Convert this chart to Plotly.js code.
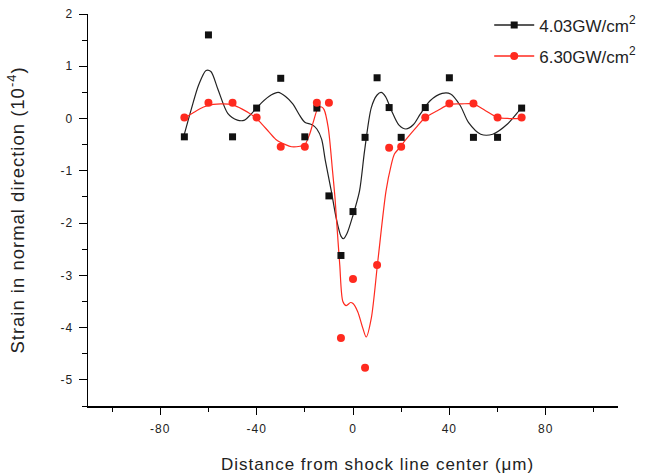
<!DOCTYPE html>
<html>
<head>
<meta charset="utf-8">
<script src="https://cdn.plot.ly/plotly-3.0.1.min.js"></script>
<style>
html,body{margin:0;padding:0;background:#fff;}
#chart{width:649px;height:474px;}
#chart .xtitle, #chart .ytitle, #chart .xtick text, #chart .ytick text, #chart .annotation-text {letter-spacing:1px;}
</style>
</head>
<body>
<div id="chart"></div>
<script>
// Measured points
const xBlack = [-70,-60,-50,-40,-30,-20,-15,-10,-5,0,5,10,15,20,30,40,50,60,70];
const yBlack = [-0.35,1.6,-0.35,0.2,0.77,-0.35,0.2,-1.48,-2.62,-1.78,-0.36,0.78,0.21,-0.36,0.21,0.78,-0.36,-0.36,0.2];
const xRed = [-70,-60,-50,-40,-30,-20,-15,-10,-5,0,5,10,15,20,30,40,50,60,70];
const yRed = [0.02,0.3,0.3,0.02,-0.54,-0.54,0.3,0.3,-4.2,-3.07,-4.77,-2.8,-0.56,-0.54,0.02,0.29,0.29,0.02,0.02];

// Fitted curves
const xBlackFit = [-70,-67,-64,-61,-59,-56,-52,-48,-45,-42,-38,-34,-31,-28,-25,-22,-20,-17,-15,-13,-11.5,-9,-7,-5,-4,-2.5,0,2.7,4.8,7.6,10,11.7,13.5,16,19,22,25,28,32,37,40.5,44.5,48,53,58,64,69.5,70];
const yBlackFit = [-0.3,0.2,0.65,0.92,0.9,0.55,0.1,-0.03,-0.03,0.1,0.3,0.45,0.5,0.42,0.28,0.05,-0.07,-0.12,-0.2,-0.4,-0.8,-1.39,-1.9,-2.25,-2.3,-2.2,-1.85,-1.39,-0.62,0.21,0.45,0.5,0.42,0.15,-0.12,-0.2,-0.12,0.09,0.34,0.48,0.47,0.25,-0.08,-0.3,-0.3,-0.11,0.18,0.2];
const xRedFit = [-70,-66,-62,-58,-54,-50,-46,-42,-39,-35,-32,-28,-25.5,-22,-20,-18,-16.5,-14.5,-13,-12,-10.3,-8.5,-7.5,-6.9,-5.5,-4.2,-2.8,-1,0,2,4,5.5,7.6,10.3,13.7,15.8,17.2,19.3,22,26.8,30,35,40,45,50,55,60,65,70];
const yRedFit = [0.0,0.12,0.22,0.27,0.28,0.26,0.18,0.07,-0.05,-0.25,-0.4,-0.5,-0.54,-0.53,-0.5,-0.3,-0.07,0.2,0.22,0.17,-0.17,-1.0,-1.5,-1.9,-2.8,-3.5,-3.58,-3.52,-3.54,-3.7,-4.0,-4.18,-3.82,-2.73,-1.39,-0.9,-0.68,-0.56,-0.4,-0.14,0.02,0.15,0.27,0.28,0.28,0.15,0.02,0.0,0.0];

const xTickVals = [-80,-40,0,40,80];
const xTickText = ['-80','-40','0','40','80'];
const yTickVals = [-5,-4,-3,-2,-1,0,1,2];
const yTickText = ['-5','-4','-3','-2','-1','0','1','2'];

const seriesNames = ['4.03GW/cm<sup>2</sup>','6.30GW/cm<sup>2</sup>'];
const xTitle = 'Distance from shock line center (μm)';
const yTitle = 'Strain in normal direction (10<sup>-4</sup>)';
const blackCol = '#111111';
const redCol = '#ff2a1f';

const traces = [
  {x:xBlackFit, y:yBlackFit, mode:'lines', line:{color:'#222', width:1.2, shape:'spline', smoothing:0.8}, showlegend:false, hoverinfo:'skip'},
  {x:xRedFit, y:yRedFit, mode:'lines', line:{color:redCol, width:1.2, shape:'spline', smoothing:0.8}, showlegend:false, hoverinfo:'skip'},
  {x:xBlack, y:yBlack, mode:'markers', name:seriesNames[0], legendgroup:'a', showlegend:false,
   marker:{symbol:'square', size:7, color:blackCol}},
  {x:xRed, y:yRed, mode:'markers', name:seriesNames[1], legendgroup:'b', showlegend:false,
   marker:{symbol:'circle', size:8, color:redCol}},
  {x:[null], y:[null], mode:'lines+markers', name:seriesNames[0], legendgroup:'a', line:{color:'#222', width:1.5}, marker:{symbol:'square', size:7, color:blackCol}},
  {x:[null], y:[null], mode:'lines+markers', name:seriesNames[1], legendgroup:'b', line:{color:redCol, width:1.5}, marker:{symbol:'circle', size:8, color:redCol}}
];

const font = 'Liberation Sans, Arial, sans-serif';
const layout = {
  width:649, height:474,
  margin:{l:88, r:31, t:14, b:68, autoexpand:false},
  paper_bgcolor:'#fff', plot_bgcolor:'#fff',
  font:{family:font, color:'#222'},
  showlegend:true,
  legend:{x:0.757, y:1.017, xanchor:'left', yanchor:'top', bgcolor:'rgba(0,0,0,0)',
          font:{size:17, color:'#222'}, tracegroupgap:6, itemwidth:40},
  annotations:[{text:xTitle, xref:'paper', yref:'paper', x:0.547, y:-0.148, xanchor:'center', yanchor:'middle',
                showarrow:false, font:{size:17, color:'#222'}}],
  xaxis:{range:[-110,110], showgrid:false, zeroline:false, showline:true, linecolor:'#000', linewidth:1.5,
         ticks:'outside', ticklen:7, tickwidth:1, tickcolor:'#000',
         tickmode:'array', tickvals:xTickVals, ticktext:xTickText, ticklabelstandoff:4,
         tickfont:{size:12, color:'#222'},
         minor:{tickmode:'linear', tick0:0, dtick:20, ticks:'outside', ticklen:4, tickcolor:'#000', showgrid:false}},
  yaxis:{range:[-5.5,2], showgrid:false, zeroline:false, showline:true, linecolor:'#000', linewidth:1.5,
         ticks:'outside', ticklen:8, tickwidth:1, tickcolor:'#000',
         tickmode:'array', tickvals:yTickVals, ticktext:yTickText, ticklabelstandoff:3,
         tickfont:{size:12, color:'#222'},
         minor:{tickmode:'linear', tick0:0, dtick:0.5, ticks:'outside', ticklen:5, tickcolor:'#000', showgrid:false},
         title:{text:yTitle, font:{size:18.5, color:'#222'}, standoff:33}}
};
Plotly.newPlot('chart', traces, layout, {staticPlot:true, displayModeBar:false});
</script>
</body>
</html>
